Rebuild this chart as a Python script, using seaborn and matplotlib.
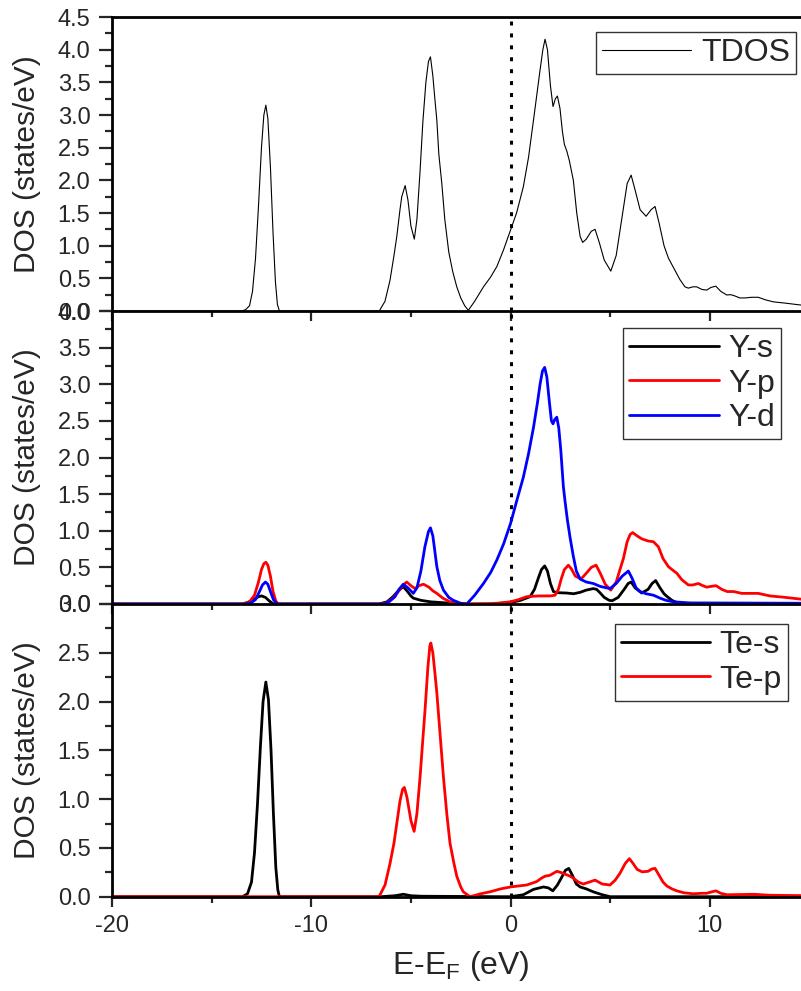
import numpy as np
import pandas as pd
import matplotlib
matplotlib.use("Agg")
import matplotlib.pyplot as plt
from matplotlib.ticker import MultipleLocator, FormatStrFormatter
import seaborn as sns

# ---------------- data ----------------
tdos_x = [-20, -13.5, -13.3, -13.1, -12.95, -12.8, -12.65, -12.5, -12.38, -12.28, -12.18, -12.05,
          -11.92, -11.8, -11.7, -11.6, -6.6, -6.55, -6.3, -6.05, -5.85, -5.71, -5.55, -5.46, -5.29,
          -5.15, -5.0, -4.83, -4.7, -4.55, -4.4, -4.25, -4.12, -4.02, -3.9, -3.8, -3.7, -3.6, -3.45,
          -3.3, -3.1, -2.9, -2.7, -2.5, -2.3, -2.12, -1.8, -1.36, -1.0, -0.69, -0.36, 0.0, 0.3, 0.64,
          0.9, 1.15, 1.48, 1.62, 1.73, 1.85, 2.0, 2.13, 2.25, 2.35, 2.48, 2.6, 2.7, 2.82, 2.95, 3.15,
          3.32, 3.49, 3.62, 3.8, 4.05, 4.24, 4.45, 4.7, 5.03, 5.3, 5.6, 5.85, 6.05, 6.25, 6.5, 6.8,
          7.05, 7.25, 7.45, 7.7, 7.92, 8.2, 8.5, 8.75, 8.92, 9.15, 9.34, 9.6, 9.84, 10.05, 10.3,
          10.55, 10.85, 11.05, 11.26, 11.5, 11.77, 12.1, 12.43, 12.8, 13.19, 13.8, 14.6, 15.0]
tdos_y = [0, 0, 0.02, 0.08, 0.3, 0.8, 1.6, 2.5, 3.0, 3.15, 2.95, 2.2,
          1.2, 0.45, 0.1, 0.0, 0.0, 0.02, 0.15, 0.47, 0.85, 1.14, 1.55, 1.75, 1.92,
          1.7, 1.3, 1.10, 1.4, 2.1, 2.9, 3.5, 3.82, 3.89, 3.6, 3.25, 2.92, 2.4, 1.95,
          1.4, 0.9, 0.6, 0.37, 0.2, 0.08, 0.01, 0.15, 0.37, 0.52, 0.68, 0.93, 1.24, 1.5, 1.9,
          2.35, 2.92, 3.69, 4.0, 4.16, 4.0, 3.45, 3.13, 3.25, 3.29, 3.1, 2.75, 2.55, 2.45, 2.3, 2.0,
          1.5, 1.14, 1.05, 1.1, 1.22, 1.25, 1.05, 0.78, 0.61, 0.85, 1.45, 1.95, 2.08, 1.85, 1.55, 1.45,
          1.55, 1.60, 1.35, 1.0, 0.81, 0.65, 0.48, 0.37, 0.35, 0.37, 0.37, 0.33, 0.32, 0.36, 0.38,
          0.3, 0.245, 0.25, 0.23, 0.2, 0.20, 0.21, 0.21, 0.17, 0.14, 0.12, 0.09, 0.08]

ys_x = [-20, -13.45, -13.2, -12.9, -12.65, -12.49, -12.3, -12.1, -11.9, -6.6, -6.2, -5.9, -5.6,
        -5.38, -5.2, -5.0, -4.88, -4.5, -4.02, -3.5, -3.0, -2.5, -1.0, 0.0, 0.5, 0.98, 1.2, 1.4,
        1.55, 1.71, 1.85, 2.0, 2.15, 2.32, 2.8, 3.16, 3.5, 3.8, 4.15, 4.32, 4.5, 4.7, 4.95, 5.1,
        5.4, 5.7, 5.9, 6.05, 6.25, 6.58, 6.9, 7.1, 7.28, 7.5, 7.7, 7.86, 8.1, 8.34, 8.8, 15.0]
ys_y = [0, 0, 0.02, 0.06, 0.10, 0.11, 0.09, 0.04, 0.0, 0.0, 0.03, 0.1, 0.19,
        0.235, 0.18, 0.11, 0.08, 0.05, 0.03, 0.02, 0.01, 0.0, 0.0, 0.02, 0.05, 0.1, 0.2, 0.36,
        0.47, 0.52, 0.45, 0.28, 0.17, 0.155, 0.15, 0.14, 0.16, 0.19, 0.21, 0.2, 0.15, 0.09, 0.05, 0.045,
        0.09, 0.2, 0.28, 0.30, 0.22, 0.15, 0.2, 0.28, 0.32, 0.22, 0.14, 0.10, 0.05, 0.02, 0.005, 0.0]

yp_x = [-20, -13.45, -13.1, -12.85, -12.65, -12.5, -12.38, -12.28, -12.18, -12.05, -11.92, -11.78,
        -11.65, -6.5, -6.2, -5.9, -5.6, -5.4, -5.21, -5.0, -4.79, -4.6, -4.37, -4.1, -3.9, -3.7,
        -3.4, -3.04, -2.6, -2.2, -1.0, -0.5, 0.0, 0.4, 0.81, 1.4, 1.98, 2.23, 2.4, 2.55, 2.7, 2.9,
        3.05, 3.25, 3.49, 3.6, 3.8, 4.05, 4.29, 4.5, 4.75, 5.03, 5.3, 5.5, 5.66, 5.85, 6.0, 6.13,
        6.35, 6.58, 6.9, 7.17, 7.42, 7.65, 7.92, 8.1, 8.34, 8.6, 8.92, 9.15, 9.42, 9.65, 9.84, 10.05,
        10.31, 10.6, 10.87, 11.2, 11.6, 12.0, 12.43, 13.02, 13.8, 14.6, 15.0]
yp_y = [0, 0, 0.03, 0.12, 0.3, 0.47, 0.55, 0.57, 0.53, 0.38, 0.17, 0.04,
        0.0, 0.0, 0.02, 0.08, 0.18, 0.26, 0.30, 0.25, 0.21, 0.25, 0.27, 0.23, 0.18, 0.145,
        0.08, 0.03, 0.005, 0.0, 0.005, 0.015, 0.03, 0.06, 0.10, 0.11, 0.11, 0.12, 0.2, 0.35, 0.47, 0.53,
        0.48, 0.38, 0.35, 0.36, 0.42, 0.5, 0.53, 0.42, 0.27, 0.19, 0.3, 0.48, 0.62, 0.85, 0.95, 0.975,
        0.93, 0.89, 0.86, 0.85, 0.78, 0.62, 0.51, 0.47, 0.42, 0.33, 0.26, 0.26, 0.28, 0.25, 0.23, 0.24,
        0.25, 0.2, 0.17, 0.17, 0.145, 0.145, 0.145, 0.11, 0.09, 0.065, 0.06]

yd_x = [-20, -13.3, -13.0, -12.8, -12.6, -12.45, -12.3, -12.18, -12.05, -11.9, -11.75, -11.65,
        -6.4, -6.1, -5.8, -5.6, -5.38, -5.15, -4.88, -4.7, -4.5, -4.3, -4.12, -4.02, -3.9, -3.8,
        -3.7, -3.55, -3.37, -3.1, -2.87, -2.5, -2.2, -1.8, -1.36, -1.0, -0.69, -0.35, 0.0, 0.3, 0.64,
        0.9, 1.15, 1.35, 1.48, 1.6, 1.71, 1.82, 1.95, 2.05, 2.13, 2.22, 2.32, 2.42, 2.52, 2.65, 2.73,
        2.85, 2.99, 3.15, 3.3, 3.49, 3.8, 4.15, 4.5, 4.99, 5.3, 5.6, 5.91, 6.1, 6.3, 6.5, 6.8, 7.17,
        7.5, 7.8, 8.17, 9.0, 15.0]
yd_y = [0, 0, 0.02, 0.06, 0.17, 0.26, 0.30, 0.27, 0.17, 0.06, 0.01, 0.0,
        0.0, 0.03, 0.1, 0.2, 0.27, 0.22, 0.145, 0.22, 0.45, 0.78, 0.99, 1.04, 0.93, 0.72,
        0.51, 0.32, 0.19, 0.09, 0.05, 0.01, 0.0, 0.12, 0.28, 0.43, 0.60, 0.82, 1.10, 1.4, 1.73,
        2.05, 2.41, 2.75, 3.0, 3.18, 3.23, 3.1, 2.75, 2.5, 2.46, 2.52, 2.55, 2.4, 2.1, 1.6, 1.41,
        1.15, 0.9, 0.65, 0.45, 0.34, 0.3, 0.28, 0.24, 0.21, 0.28, 0.38, 0.45, 0.35, 0.22, 0.17, 0.14, 0.12,
        0.08, 0.05, 0.03, 0.015, 0.01]

tes_x = [-20, -13.45, -13.2, -13.0, -12.85, -12.7, -12.55, -12.42, -12.28, -12.15, -12.02, -11.9,
         -11.78, -11.68, -11.6, -6.5, -5.8, -5.38, -5.0, -4.5, -0.5, 0.0, 0.64, 1.15, 1.65, 1.9,
         2.12, 2.35, 2.57, 2.75, 2.92, 3.1, 3.3, 3.49, 3.8, 4.15, 4.6, 5.0, 15.0]
tes_y = [0, 0, 0.03, 0.15, 0.45, 0.95, 1.55, 2.0, 2.20, 2.02, 1.5, 0.85,
         0.3, 0.07, 0.0, 0.0, 0.01, 0.025, 0.01, 0.005, 0.0, 0.0, 0.02, 0.075, 0.10, 0.09,
         0.06, 0.12, 0.2, 0.27, 0.29, 0.22, 0.13, 0.10, 0.08, 0.05, 0.02, 0.0, 0.0]

tep_x = [-20, -6.6, -6.3, -6.05, -5.85, -5.71, -5.55, -5.42, -5.33, -5.2, -5.0, -4.84, -4.7,
         -4.54, -4.4, -4.29, -4.15, -4.05, -4.0, -3.9, -3.8, -3.7, -3.55, -3.37, -3.2, -3.04, -2.85,
         -2.7, -2.5, -2.37, -2.04, -1.5, -1.03, -0.5, 0.0, 0.4, 0.81, 1.1, 1.31, 1.55, 1.73, 1.98,
         2.15, 2.32, 2.5, 2.75, 2.99, 3.15, 3.4, 3.65, 3.95, 4.24, 4.6, 4.99, 5.25, 5.49, 5.75, 5.96,
         6.15, 6.35, 6.6, 6.9, 7.1, 7.25, 7.45, 7.65, 7.84, 8.1, 8.34, 8.7, 9.17, 9.6, 9.84, 10.1,
         10.3, 10.55, 10.85, 11.5, 12.2, 13.0, 15.0]
tep_y = [0, 0, 0.12, 0.34, 0.55, 0.75, 0.98, 1.1, 1.12, 1.02, 0.78, 0.67, 0.85,
         1.23, 1.62, 1.92, 2.35, 2.57, 2.60, 2.5, 2.3, 2.09, 1.7, 1.23, 0.85, 0.55, 0.35,
         0.21, 0.1, 0.05, 0.0, 0.03, 0.05, 0.08, 0.10, 0.11, 0.12, 0.14, 0.155, 0.19, 0.21, 0.22,
         0.24, 0.26, 0.25, 0.23, 0.21, 0.19, 0.15, 0.13, 0.15, 0.17, 0.13, 0.12, 0.17, 0.24, 0.34, 0.39,
         0.34, 0.28, 0.255, 0.26, 0.285, 0.29, 0.22, 0.15, 0.11, 0.08, 0.06, 0.04, 0.03, 0.035, 0.035, 0.05,
         0.06, 0.035, 0.02, 0.022, 0.025, 0.015, 0.01]

x_major = [-20, -10, 0, 10]
xlabel = "E-E$_\\mathregular{F}$ (eV)"
ylabel = "DOS (states/eV)"

# ---------------- style ----------------
sns.set_style("ticks")
plt.rcParams["font.family"] = ["Liberation Sans", "DejaVu Sans"]
plt.rcParams["mathtext.fontset"] = "custom"
plt.rcParams["mathtext.rm"] = "Liberation Sans"
plt.rcParams["axes.unicode_minus"] = False
plt.rcParams["axes.linewidth"] = 2.0
plt.rcParams["axes.edgecolor"] = "black"

W, H = 801, 991
fig = plt.figure(figsize=(W / 100, H / 100), dpi=100)

left_px, right_px = 112.0, 809.5
def axes_rect(top_px, bot_px):
    return [left_px / W, 1 - bot_px / H, (right_px - left_px) / W, (bot_px - top_px) / H]

ax1 = fig.add_axes(axes_rect(17, 311))
ax2 = fig.add_axes(axes_rect(311, 604))
ax3 = fig.add_axes(axes_rect(604, 896.7))

df_t = pd.DataFrame({"E": tdos_x, "DOS": tdos_y})
sns.lineplot(data=df_t, x="E", y="DOS", ax=ax1, color="black", linewidth=0.8,
             label="TDOS", estimator=None, sort=False)

for xs, ys, c, lab in [(ys_x, ys_y, "black", "Y-s"), (yp_x, yp_y, "#ff0000", "Y-p"),
                       (yd_x, yd_y, "#0000ff", "Y-d")]:
    sns.lineplot(x=xs, y=ys, ax=ax2, color=c, linewidth=2.0, label=lab,
                 estimator=None, sort=False)

for xs, ys, c, lab in [(tes_x, tes_y, "black", "Te-s"), (tep_x, tep_y, "#ff0000", "Te-p")]:
    sns.lineplot(x=xs, y=ys, ax=ax3, color=c, linewidth=2.0, label=lab,
                 estimator=None, sort=False)

ylims = [(0, 4.5), (0, 4.0), (0, 3.0)]
for ax, yl in zip([ax1, ax2, ax3], ylims):
    ax.set_xlim(-20, 15)
    ax.set_ylim(*yl)
    ax.axvline(0, color="black", linewidth=2.2, linestyle=(0, (1.3, 2.6)), zorder=1)
    ax.set_xticks(x_major)
    ax.xaxis.set_minor_locator(MultipleLocator(5))
    ax.yaxis.set_major_locator(MultipleLocator(0.5))
    ax.yaxis.set_minor_locator(MultipleLocator(0.25))
    ax.yaxis.set_major_formatter(FormatStrFormatter("%.1f"))
    ax.tick_params(axis="y", which="major", direction="out", length=9.5, width=1.6,
                   labelsize=17, pad=6)
    ax.tick_params(axis="y", which="minor", direction="out", length=5, width=1.6)
    ax.tick_params(axis="x", which="major", direction="out", length=7.5, width=1.6,
                   labelsize=17, pad=6)
    ax.tick_params(axis="x", which="minor", direction="out", length=4, width=1.6)
    ax.spines["right"].set_visible(False)
    ax.set_ylabel(ylabel, fontsize=21.5)
    ax.yaxis.set_label_coords(-0.102, 0.5)
    ax.set_xlabel("")
    ax.set_facecolor("none")

ax2.spines["top"].set_visible(False)
ax3.spines["top"].set_visible(False)
ax1.tick_params(axis="x", labelbottom=False)
ax2.tick_params(axis="x", labelbottom=False)
ax3.set_xlabel(xlabel, fontsize=23, labelpad=8)

leg_kw = dict(loc="upper right", bbox_transform=fig.transFigure, borderaxespad=0,
              fontsize=23, frameon=True, fancybox=False, shadow=False,
              handlelength=2.8, handletextpad=0.3, borderpad=0.19, labelspacing=0.14,
              framealpha=1)
for ax, (rx, ty) in zip([ax1, ax2, ax3], [(796, 32), (781, 328), (788, 624)]):
    leg = ax.legend(bbox_to_anchor=(rx / W, 1 - ty / H), **leg_kw)
    leg.get_frame().set_edgecolor("#333333")
    leg.get_frame().set_linewidth(1.0)

fig.savefig("out.png", dpi=100)
